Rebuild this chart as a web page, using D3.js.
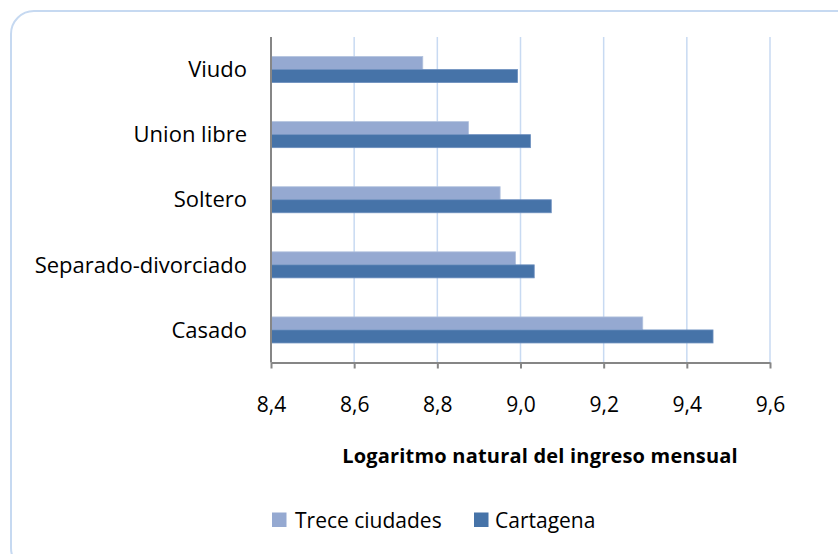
<!DOCTYPE html>
<html>
<head>
<meta charset="utf-8">
<script src="https://cdn.jsdelivr.net/npm/d3@7"></script>
<style>
  html, body { margin: 0; padding: 0; background: #ffffff; }
  svg text { font-family: "Open Sans", "DejaVu Sans", sans-serif; fill: #000; }
</style>
</head>
<body>
<svg id="chart" width="838" height="554"></svg>
<script>
// ---- data ----
const categories = ["Viudo", "Union libre", "Soltero", "Separado-divorciado", "Casado"];
const seriesNames = ["Trece ciudades", "Cartagena"];
const treceCiudades = [8.765, 8.875, 8.951, 8.988, 9.294];
const cartagena = [8.993, 9.024, 9.074, 9.033, 9.463];
const tickValues = [8.4, 8.6, 8.8, 9.0, 9.2, 9.4, 9.6];
const axisTitle = "Logaritmo natural del ingreso mensual";

// ---- layout ----
const svg = d3.select("#chart");
const plot = { left: 271, right: 770, top: 37, bottom: 362.5 };
const colors = { "Trece ciudades": "#95a9d1", "Cartagena": "#4673a8" };
const gridColor = "#c8daf2";
const axisColor = "#868686";

// chart border
svg.append("rect")
  .attr("x", 11).attr("y", 11)
  .attr("width", 850).attr("height", 560)
  .attr("rx", 23).attr("ry", 23)
  .attr("fill", "#fff")
  .attr("stroke", "#c6d9f1")
  .attr("stroke-width", 2);

const x = d3.scaleLinear().domain([8.4, 9.6]).range([plot.left, plot.right]);
const y = d3.scaleBand().domain(categories).range([plot.top, plot.bottom])
  .paddingInner(0.6).paddingOuter(0.3);
const ySub = d3.scaleBand().domain(seriesNames).range([0, y.bandwidth()]);

const fmt = v => d3.format(".1f")(v).replace(".", ",");

// gridlines
svg.append("g").selectAll("line")
  .data(tickValues.slice(1))
  .join("line")
  .attr("x1", d => x(d)).attr("x2", d => x(d))
  .attr("y1", plot.top).attr("y2", plot.bottom)
  .attr("stroke", gridColor).attr("stroke-width", 1.5);

// bars
const rows = categories.map((c, i) => ({ cat: c, vals: [
  { s: seriesNames[0], v: treceCiudades[i] },
  { s: seriesNames[1], v: cartagena[i] }
]}));

const g = svg.append("g");
g.selectAll("g.cat")
  .data(rows)
  .join("g")
  .attr("class", "cat")
  .attr("transform", d => `translate(0,${y(d.cat)})`)
  .selectAll("rect")
  .data(d => d.vals)
  .join("rect")
  .attr("x", x(8.4))
  .attr("y", d => ySub(d.s))
  .attr("width", d => x(d.v) - x(8.4))
  .attr("height", ySub.bandwidth())
  .attr("fill", d => colors[d.s])
  .attr("stroke", d => d.s === "Cartagena" ? "#6d8fbf" : "#b2c2de")
  .attr("stroke-width", 0.8);

// x axis
const xAxis = d3.axisBottom(x).tickValues(tickValues).tickFormat(fmt).tickSize(6).tickSizeOuter(0);
const gx = svg.append("g").attr("transform", `translate(0,${plot.bottom})`).call(xAxis);
gx.select(".domain").attr("stroke", axisColor).attr("stroke-width", 2);
gx.selectAll(".tick line").attr("stroke", axisColor).attr("stroke-width", 2);
gx.selectAll(".tick text")
  .attr("y", 49).attr("dy", 0)
  .style("font-size", "21px")
  .style("font-family", "'Open Sans', sans-serif")
  .attr("fill", "#000");

// y axis
const yAxis = d3.axisLeft(y).tickSize(0).tickPadding(24);
const gy = svg.append("g").attr("transform", `translate(${plot.left},0)`).call(yAxis);
gy.select(".domain").attr("stroke", axisColor).attr("stroke-width", 2)
  .attr("d", `M0,${plot.top}V${plot.bottom}`);
gy.selectAll(".tick text")
  .attr("dy", "0.35em")
  .style("font-size", "22px")
  .style("font-family", "'Open Sans', sans-serif")
  .attr("fill", "#000");

// axis title
svg.append("text")
  .attr("x", 540).attr("y", 463)
  .attr("text-anchor", "middle")
  .style("font-size", "20px")
  .style("font-weight", "bold")
  .style("letter-spacing", "0.2px")
  .text(axisTitle);

// legend
const legendItems = [
  { name: seriesNames[0], sx: 272, tx: 295 },
  { name: seriesNames[1], sx: 474, tx: 495 }
];
const lg = svg.append("g");
lg.selectAll("rect")
  .data(legendItems)
  .join("rect")
  .attr("x", d => d.sx).attr("y", 512.5)
  .attr("width", 14.5).attr("height", 14.5)
  .attr("fill", d => colors[d.name]);
lg.selectAll("text")
  .data(legendItems)
  .join("text")
  .attr("x", d => d.tx).attr("y", 527.5)
  .style("font-size", "21px")
  .text(d => d.name);
</script>
</body>
</html>
